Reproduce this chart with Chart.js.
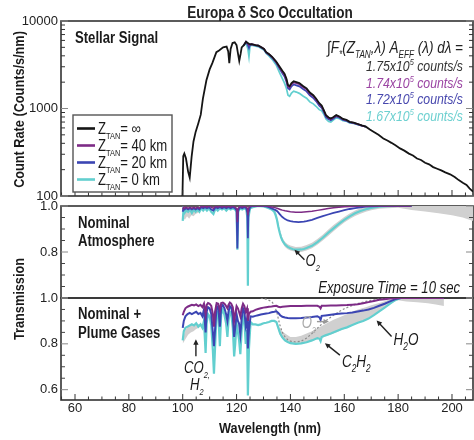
<!DOCTYPE html>
<html><head><meta charset="utf-8">
<script src="https://cdn.jsdelivr.net/npm/chart.js@4.4.1/dist/chart.umd.min.js"></script>
<style>html,body{margin:0;padding:0;background:#fff}#wrap{position:relative;width:474px;height:440px}</style>
</head><body><div id="wrap"><canvas id="c" width="474" height="440"></canvas></div>
<script>
// ---------------- DATA ----------------
const xTicks = [60, 80, 100, 120, 140, 160, 180, 200];
const topTicks = [100, 1000, 10000];
const midTicks = [0.8, 1.0];
const botTicks = [0.6, 0.8, 1.0];
const seriesNames = ['Z_TAN = ∞', 'Z_TAN = 40 km', 'Z_TAN = 20 km', 'Z_TAN = 0 km'];
const countRates = ['1.75', '1.74', '1.72', '1.67'];

// Stellar signal (count rate, counts/s/nm) vs wavelength (nm)
const wlTop = [99.9,100.2,100.6,101.2,102.0,102.6,103.3,104.0,104.8,105.8,106.7,107.5,108.8,110.0,111.0,112.5,113.5,115.0,116.3,116.9,117.3,117.8,118.5,119.3,120.0,120.5,121.0,121.5,121.9,122.7,123.5,124.2,124.6,125.0,125.6,127.0,128.0,129.2,130.2,131.0,132.0,133.2,134.7,136.0,137.0,137.8,138.5,139.1,139.7,140.4,141.2,142.2,143.3,144.8,146.0,147.2,148.5,149.5,150.7,151.6,152.4,153.2,154.2,155.0,156.0,157.0,158.2,159.5,160.8,162.0,163.5,165.0,166.5,168.0,169.5,171.0,172.7,174.5,176.0,177.5,179.0,180.7,182.3,184.0,185.5,187.0,188.5,190.0,191.5,193.0,194.5,196.0,197.5,199.3,201.0,202.5,204.0,205.4,206.5,207.8];
const topInf = [100,285,305,270,190,162,280,420,540,680,850,1300,2100,2800,3300,4400,4600,5000,5100,4500,3300,4800,5600,5700,5300,4300,3500,4200,5000,5300,5800,5600,5500,5400,5450,5300,5250,5000,4800,4400,4200,3900,3450,3000,2700,2500,2200,1850,1800,1950,2050,2000,1950,1800,1700,1520,1420,1300,1150,1080,960,840,790,770,800,840,810,760,740,705,690,665,640,620,575,540,500,455,430,405,380,350,330,305,290,268,258,240,230,214,205,196,186,177,165,152,142,134,122,112];
const wlTopAbs = [122.7,123.5,124.2,124.6,125.0,125.6,127.0,128.0,129.2,130.2,131.0,132.0,133.2,134.7,136.0,137.0,137.8,138.5,139.1,139.7,140.4,141.2,142.2,143.3,144.8,146.0,147.2,148.5,149.5,150.7,151.6,152.4,153.2,154.2,155.0,156.0,157.0,158.2,159.5,160.8,162.0,163.5,165.0,166.5,168.0];
const top40 = [5300,5800,5500,5300,5400,5450,5300,5250,5000,4790,4380,4170,3860,3400,2930,2630,2430,2130,1790,1740,1890,1990,1940,1890,1750,1655,1480,1385,1270,1125,1058,942,825,777,758,789,829,801,752,733,700,686,662,638,619];
const top20 = [5300,5750,5300,4900,5350,5400,5250,5200,4950,4750,4340,4120,3800,3330,2850,2530,2320,2030,1700,1650,1790,1880,1840,1790,1660,1570,1410,1320,1215,1080,1018,908,797,752,735,768,810,785,740,723,692,680,659,636,618];
const top0 = [5200,5600,4800,3900,5200,5300,5150,5100,4850,4650,4250,4000,3650,3150,2550,2200,1950,1700,1420,1380,1500,1580,1540,1490,1380,1310,1190,1130,1060,970,940,860,760,710,700,740,780,765,725,715,685,675,655,635,620];

// Nominal atmosphere transmission
const wlAtm = [100.0,100.3,100.7,101.3,102.0,102.7,103.4,104.1,104.8,105.5,106.2,106.9,107.6,108.3,109.0,109.8,110.6,111.4,112.2,113.0,113.8,114.6,115.4,116.2,117.0,117.8,118.6,119.4,120.0,120.3,120.6,121.3,122.1,122.9,123.6,124.0,124.2,124.4,125.0,126,128,130,131,132,133,134,134.5,135,135.5,136,136.5,137,138,139,140,141,142,143,144,145,146,148,150,152,154,156,158,160,162,164,166,168,170,173,176,180,185];
const atm40 = [.985,.995,.99,.995,.99,.995,.99,.995,.99,.995,.99,1.0,.995,1.0,.995,1.0,.995,.99,1.0,.995,1.0,.995,1.0,.995,1.0,.995,1.0,.995,.99,.93,.99,1.0,.995,1.0,.995,.99,.96,.99,1.0,1.0,1.0,1.0,1.0,.998,.996,.994,.992,.99,.988,.986,.984,.982,.979,.977,.975,.974,.973,.973,.973,.974,.975,.977,.981,.985,.989,.992,.995,.997,.998,.999,1.0,1.0,1.0,1.0,1.0,1.0,1.0];
const atm20 = [.975,.99,.985,.99,.985,.99,.985,.99,.985,.99,.985,.995,.99,.995,.99,.995,.985,.98,.995,.99,.995,.99,.995,.99,.995,.99,.995,.99,.98,.815,.98,.995,.99,.995,.99,.97,.86,.97,.995,1.0,1.0,1.0,.998,.995,.99,.985,.982,.978,.972,.965,.958,.952,.943,.937,.934,.932,.931,.93,.931,.932,.934,.94,.948,.956,.963,.97,.976,.982,.987,.991,.994,.997,.999,1.0,1.0,1.0,1.0];
const atm0 = [.935,.985,.97,.98,.975,.985,.97,.985,.975,.985,.975,.99,.98,.99,.98,.99,.975,.965,.99,.98,.99,.985,.99,.98,.99,.985,.99,.985,.975,.81,.975,.99,.985,.99,.985,.95,.653,.95,.99,.995,1.0,.998,.995,.99,.985,.975,.96,.94,.91,.885,.865,.85,.832,.822,.816,.812,.81,.81,.811,.813,.817,.827,.843,.862,.883,.903,.922,.94,.955,.968,.978,.986,.992,.997,.999,1.0,1.0];
const wlGrayAtm = [100,100.8,101.6,102.4,103.2,104,104.8,105.6,106.4,107.2,108,133,134,135,136,137,138,139,140,142,144,146,148,150,152,154,156,158,160,162,164,166,168,170,173,176,180,185,190,195,200,204,207.8];
const grayAtmLo = [.95,.94,.955,.945,.96,.955,.965,.97,.98,.99,1.0,1.0,.975,.935,.875,.84,.822,.812,.806,.8,.8,.806,.816,.832,.85,.87,.89,.91,.928,.943,.956,.966,.975,.982,.988,.99,.992,.983,.976,.968,.96,.95,.935];
const grayAtmHi = [.99,.985,.99,.985,.99,.99,.995,.995,1.0,1.0,1.0,1.0,.99,.96,.9,.862,.844,.834,.828,.822,.823,.83,.84,.856,.875,.897,.917,.935,.952,.967,.98,.99,.996,1.0,1.0,1.0,1.0,1.0,1.0,1.0,1.0,1.0,1.0];

// Nominal + plume gases transmission
const wlPl = [100.0,100.4,101.0,101.8,102.6,103.4,104.2,105.0,105.8,106.6,107.3,107.9,108.5,108.9,109.4,110.0,110.6,111.2,111.6,112.0,112.6,113.2,113.8,114.3,114.9,115.5,116.1,116.6,117.0,117.5,118.0,118.6,119.1,119.5,120.0,120.5,120.9,121.4,121.9,122.4,122.9,123.4,123.9,124.2,124.6,125.2,126,127,128,129,130,131,132,133,134,134.8,135.5,136.2,137,138,139,140,142,144,146,148,150,150.8,151.2,151.6,153,155,157,159,161,163,165,167,169,171,173,175,177,179,181,183,190,197];
const pl40 = [.925,.94,.955,.962,.966,.97,.968,.972,.965,.97,.96,.975,.93,.97,.978,.975,.965,.93,.875,.94,.978,.975,.945,.978,.98,.975,.965,.955,.97,.98,.975,.96,.9,.93,.965,.955,.94,.92,.955,.975,.965,.94,.955,.9,.93,.94,.942,.948,.952,.955,.958,.96,.962,.963,.965,.966,.962,.96,.962,.963,.964,.965,.965,.965,.966,.966,.966,.962,.955,.966,.966,.967,.967,.968,.969,.971,.973,.977,.982,.987,.992,.995,.998,.999,1.0,1.0,1.0,1.0];
const pl20 = [.87,.9,.92,.93,.935,.93,.935,.94,.93,.935,.92,.95,.85,.94,.96,.955,.93,.85,.79,.86,.965,.96,.875,.96,.97,.955,.93,.9,.94,.965,.96,.92,.83,.87,.93,.9,.89,.84,.91,.955,.94,.88,.91,.78,.86,.92,.918,.922,.925,.928,.93,.932,.934,.938,.94,.942,.935,.925,.918,.915,.913,.912,.912,.913,.915,.917,.92,.915,.905,.922,.924,.927,.93,.932,.934,.937,.941,.945,.95,.957,.966,.975,.985,.995,1.0,1.0,1.0,1.0];
const pl0 = [.815,.855,.87,.875,.88,.885,.88,.89,.875,.885,.87,.9,.76,.89,.93,.92,.88,.77,.67,.78,.94,.935,.79,.93,.95,.925,.89,.83,.9,.94,.935,.87,.745,.8,.89,.85,.82,.755,.86,.92,.9,.8,.86,.575,.78,.895,.885,.885,.882,.885,.89,.892,.895,.9,.9,.895,.87,.845,.828,.815,.808,.803,.8,.802,.807,.815,.825,.822,.812,.83,.837,.845,.855,.865,.872,.882,.892,.9,.91,.925,.942,.958,.975,.992,1.0,1.0,1.0,1.0];
const wlGrayPl = [100,101,102,103,104,105,106,107,107.5,134.5,136,137,138,140,142,144,146,148,150,152,154,156,158,160,162,164,166,168,170,172,174,176,178,180,183,187,191,194,197];
const grayPlLo = [.8,.82,.84,.85,.855,.865,.87,.88,.885,.9,.84,.822,.81,.8,.797,.8,.805,.812,.82,.828,.836,.845,.855,.865,.875,.885,.895,.905,.918,.932,.948,.965,.98,.99,.985,.982,.977,.972,.965];
const grayPlHi = [.82,.86,.875,.885,.885,.89,.885,.885,.885,.9,.87,.855,.845,.83,.83,.835,.845,.855,.868,.88,.893,.905,.915,.925,.935,.945,.953,.96,.968,.975,.982,.99,.996,1.0,1.0,1.0,1.0,1.0,1.0];
const wlO2 = [129,131,133,134,135,136,137,138,139,140,142,144,146,148,150,152,154,156,158,160,162,164,166,168,170,173,176,180];
const o2Only = [1.0,.995,.985,.97,.935,.885,.85,.83,.818,.812,.808,.812,.825,.845,.868,.89,.908,.925,.94,.953,.963,.972,.979,.985,.99,.995,.998,1.0];

// ---------------- FONTS ----------------
function hasFont(name){
  const c = document.createElement('canvas').getContext('2d');
  c.font = '40px monospace'; const a = c.measureText('Exposure Time 10 sec').width;
  c.font = `40px '${name}', monospace`; const b = c.measureText('Exposure Time 10 sec').width;
  return Math.abs(a - b) > 1;
}
const NARROW = hasFont('Liberation Sans Narrow');
const FN = NARROW ? "'Liberation Sans Narrow', sans-serif" : "'Liberation Sans', Arial, sans-serif";
const SX = NARROW ? 1 : 0.82;
Chart.defaults.font.family = FN;
Chart.defaults.font.size = NARROW ? 15.5 : 13;
Chart.defaults.color = '#222';

const C = {inf:'#151515', k40:'#7d2b86', k20:'#3b45b3', k0:'#62cfcf', gray:'#d0d0d0', dot:'#8c8c8c'};

function pts(xs, ys){ return xs.map((x, i) => ({x, y: ys[i]})); }
function ln(label, xs, ys, axis, color, width, order, extra){
  return Object.assign({label, data: pts(xs, ys), xAxisID: 'x', yAxisID: axis, borderColor: color,
    backgroundColor: color, borderWidth: width, pointRadius: 0, tension: 0, fill: false, order}, extra || {});
}

const datasets = [
  ln('inf', wlTop, topInf, 'yTop', C.inf, 1.8, 0),
  ln('40', wlTopAbs, top40, 'yTop', C.k40, 1.7, 1),
  ln('20', wlTopAbs, top20, 'yTop', C.k20, 1.7, 2),
  ln('0', wlTopAbs, top0, 'yTop', C.k0, 1.7, 3),
  ln('atm40', wlAtm, atm40, 'yMid', C.k40, 1.5, 1),
  ln('atm20', wlAtm, atm20, 'yMid', C.k20, 1.8, 2),
  ln('atm0', wlAtm, atm0, 'yMid', C.k0, 2.2, 3),
  ln('grayAtmLo', wlGrayAtm, grayAtmLo, 'yMid', 'rgba(0,0,0,0)', 0, 9),
  ln('grayAtmHi', wlGrayAtm, grayAtmHi, 'yMid', 'rgba(0,0,0,0)', 0, 9, {fill: '-1', backgroundColor: C.gray}),
  ln('pl40', wlPl, pl40, 'yBot', C.k40, 2, 1),
  ln('pl20', wlPl, pl20, 'yBot', C.k20, 2, 2),
  ln('pl0', wlPl, pl0, 'yBot', C.k0, 2.2, 3),
  ln('o2', wlO2, o2Only, 'yBot', C.dot, 1.2, 4, {borderDash: [2, 2]}),
  ln('grayPlLo', wlGrayPl, grayPlLo, 'yBot', 'rgba(0,0,0,0)', 0, 9),
  ln('grayPlHi', wlGrayPl, grayPlHi, 'yBot', 'rgba(0,0,0,0)', 0, 9, {fill: '-1', backgroundColor: C.gray}),
];

// ---------------- TEXT HELPERS ----------------
function txt(ctx, parts, x, y, o){
  const size = o.size || 16;
  const sub = Math.round(size * 0.58);
  const font = sz => `${o.style || 'normal'} ${o.weight || 'normal'} ${sz}px ${FN}`;
  const ws = []; let tot = 0;
  for (const p of parts){ ctx.font = font(p[1] ? sub : size); const w = ctx.measureText(p[0]).width; ws.push(w); tot += w; }
  let cur = o.align === 'right' ? -tot : o.align === 'center' ? -tot / 2 : 0;
  ctx.save();
  ctx.translate(x, y);
  if (o.rot) ctx.rotate(o.rot);
  ctx.scale(SX, 1);
  ctx.textAlign = 'left'; ctx.textBaseline = 'alphabetic';
  const base = size * 0.36;
  parts.forEach((p, i) => {
    ctx.font = font(p[1] ? sub : size);
    ctx.fillStyle = p[2] || o.color || '#1a1a1a';
    const dy = p[1] === 'sub' ? size * 0.3 : p[1] === 'sup' ? -size * 0.42 : 0;
    ctx.fillText(p[0], cur, base + dy);
    cur += ws[i];
  });
  ctx.restore();
}
function arrow(ctx, x1, y1, x2, y2, color){
  const a = Math.atan2(y2 - y1, x2 - x1), h = 6;
  ctx.save(); ctx.strokeStyle = color; ctx.fillStyle = color; ctx.lineWidth = 1.4;
  ctx.beginPath(); ctx.moveTo(x1, y1); ctx.lineTo(x2 - Math.cos(a) * h * 0.8, y2 - Math.sin(a) * h * 0.8); ctx.stroke();
  ctx.beginPath(); ctx.moveTo(x2, y2);
  ctx.lineTo(x2 - h * Math.cos(a - 0.45), y2 - h * Math.sin(a - 0.45));
  ctx.lineTo(x2 - h * Math.cos(a + 0.45), y2 - h * Math.sin(a + 0.45));
  ctx.closePath(); ctx.fill(); ctx.restore();
}

const deco = {
  id: 'deco',
  beforeDatasetsDraw(chart){
    const ctx = chart.ctx, ca = chart.chartArea, s = chart.scales;
    ctx.save(); ctx.strokeStyle = '#333'; ctx.lineWidth = 1.6;
    for (const a of [s.yTop, s.yMid, s.yBot]) ctx.strokeRect(ca.left, a.top, ca.right - ca.left, a.bottom - a.top);
    ctx.restore();
  },
  afterDatasetsDraw(chart){
    const ctx = chart.ctx, ca = chart.chartArea, s = chart.scales;
    const X = s.x, yT = s.yTop, yM = s.yMid, yB = s.yBot, L = ca.left, R = ca.right;
    ctx.save();
    ctx.lineWidth = 1;
    const seg = (x1, y1, x2, y2, c) => { ctx.strokeStyle = c; ctx.beginPath(); ctx.moveTo(x1, y1); ctx.lineTo(x2, y2); ctx.stroke(); };
    for (let v = 55; v <= 205; v += 5){
      const px = X.getPixelForValue(v), major = v % 20 === 0, len = major ? 6 : 3.5;
      for (const a of [yT, yB]) seg(px, a.bottom, px, a.bottom - len, '#333');
    }
    for (const d of [100, 1000]) for (let m = 1; m <= 10; m++){
      const v = d * m, py = yT.getPixelForValue(v), major = (m === 1 || m === 10), len = major ? 7 : 4;
      seg(L, py, L + len, py, major ? '#888' : '#333'); seg(R, py, R - len, py, major ? '#888' : '#333');
    }
    for (const a of [yM, yB]){
      for (let k = 12; k <= 20; k++){
        const v = k * 0.05; if (v < a.min - 1e-6) continue;
        const py = a.getPixelForValue(v), major = k % 4 === 0, len = major ? 7 : 4;
        seg(L, py, L + len, py, major ? '#888' : '#444'); seg(R, py, R - len, py, major ? '#888' : '#444');
      }
    }
    ctx.restore();

    const midX = (L + R) / 2;
    txt(ctx, [['Europa δ Sco Occultation']], midX + 3, 12, {size: 16.5, weight: 'bold', align: 'center', color: '#222'});
    txt(ctx, [['Count Rate (Counts/s/nm)']], 18.5, (yT.top + yT.bottom) / 2 + 1, {size: 15.5, weight: 'bold', align: 'center', rot: -Math.PI / 2});
    txt(ctx, [['Transmission']], 18.5, 299, {size: 15.5, weight: 'bold', align: 'center', rot: -Math.PI / 2});
    txt(ctx, [['Wavelength (nm)']], midX + 3, 427, {size: 15.5, weight: 'bold', align: 'center'});

    txt(ctx, [['Stellar Signal']], L + 14, 37, {size: 16, weight: 'bold'});
    txt(ctx, [['Nominal']], L + 17, 222, {size: 16, weight: 'bold'});
    txt(ctx, [['Atmosphere']], L + 17, 240, {size: 16, weight: 'bold'});
    txt(ctx, [['Nominal +']], L + 17, 313, {size: 16, weight: 'bold'});
    txt(ctx, [['Plume Gases']], L + 17, 332, {size: 16, weight: 'bold'});

    txt(ctx, [['∫F'], ['*', 'sub'], ['(Z'], ['TAN', 'sub'], [',λ) A'], ['EFF', 'sub'], [' (λ) dλ =']], R - 10, 47, {size: 16.5, style: 'italic', align: 'right', color: '#222'});
    const rc = ['#333', '#9b45a3', '#4848ae', '#6dd0d0'];
    countRates.forEach((r, i) => {
      txt(ctx, [[r + 'x10'], ['5', 'sup'], [' counts/s']], R - 10, 66 + i * 16.5, {size: 15, style: 'italic', align: 'right', color: rc[i]});
    });

    ctx.save();
    ctx.fillStyle = '#fff'; ctx.strokeStyle = '#555'; ctx.lineWidth = 1.4;
    ctx.fillRect(L + 12, 115, 99, 77); ctx.strokeRect(L + 12, 115, 99, 77);
    const lc = [C.inf, C.k40, C.k20, C.k0];
    seriesNames.forEach((n, i) => {
      const y = 128.5 + i * 17;
      ctx.strokeStyle = lc[i]; ctx.lineWidth = 2.6;
      ctx.beginPath(); ctx.moveTo(L + 16, y); ctx.lineTo(L + 34, y); ctx.stroke();
      const rest = n.split('=')[1];
      txt(ctx, [['Z'], ['TAN', 'sub'], ['=' + rest]], L + 37, y, {size: 16});
    });
    ctx.restore();

    let hx = X.getPixelForValue(141.5), hy = yM.getPixelForValue(0.81);
    arrow(ctx, hx + 10, hy + 10, hx, hy, '#222');
    txt(ctx, [['O'], ['2', 'sub']], hx + 11, hy + 11, {size: 16, style: 'italic'});
    txt(ctx, [['Exposure Time = 10 sec']], R - 13, 287, {size: 16, style: 'italic', align: 'right'});

    hx = X.getPixelForValue(104.9); hy = yB.getPixelForValue(0.82);
    arrow(ctx, hx, hy + 17, hx, hy, '#222');
    txt(ctx, [['CO'], ['2', 'sub'], [',', 'sub']], hx + 1, hy + 28, {size: 16, style: 'italic', align: 'center'});
    txt(ctx, [['H'], ['2', 'sub']], hx + 1, hy + 45, {size: 16, style: 'italic', align: 'center'});

    hx = X.getPixelForValue(154.3); hy = yB.getPixelForValue(0.897);
    arrow(ctx, hx - 12, hy, hx, hy, '#999');
    txt(ctx, [['O'], ['2', 'sub']], hx - 13, hy + 1, {size: 16, style: 'italic', align: 'right', color: '#aaa'});

    hx = X.getPixelForValue(172); hy = yB.getPixelForValue(0.902);
    arrow(ctx, hx + 15, hy + 16, hx, hy, '#222');
    txt(ctx, [['H'], ['2', 'sub'], ['O']], hx + 17, hy + 19, {size: 16.5, style: 'italic'});

    hx = X.getPixelForValue(152.8); hy = yB.getPixelForValue(0.803);
    arrow(ctx, hx + 15, hy + 12, hx, hy, '#222');
    txt(ctx, [['C'], ['2', 'sub'], ['H'], ['2', 'sub']], hx + 17, hy + 18, {size: 16.5, style: 'italic'});
  }
};

const fixW = s => { s.width = 61; };
const setTicks = arr => s => { s.ticks = arr.map(v => ({value: v})); };
const noGrid = {display: false, drawTicks: false};
const yCommon = {position: 'left', stack: 'panels', grid: noGrid, border: {display: false}, afterFit: fixW};

new Chart(document.getElementById('c'), {
  type: 'line',
  data: {datasets},
  options: {
    responsive: false, animation: false, events: [],
    layout: {padding: {top: 21, left: 0, right: 1, bottom: 0}},
    plugins: {legend: {display: false}, tooltip: {enabled: false}, title: {display: false}},
    scales: {
      x: {type: 'linear', position: 'bottom', min: 54.8, max: 207.8, grid: noGrid, border: {display: false},
          ticks: {padding: 1, maxRotation: 0}, afterBuildTicks: setTicks(xTicks), afterFit: s => { s.height = 40; }},
      yBot: Object.assign({}, yCommon, {type: 'linear', stackWeight: 102, weight: 1, min: 0.555, max: 1.0,
          ticks: {padding: 3, callback: v => Number(v).toFixed(1)}, afterBuildTicks: setTicks(botTicks)}),
      yMid: Object.assign({}, yCommon, {type: 'linear', stackWeight: 92, weight: 2, min: 0.6, max: 1.0,
          ticks: {padding: 3, callback: v => Number(v).toFixed(1)}, afterBuildTicks: setTicks(midTicks)}),
      yGap: Object.assign({}, yCommon, {type: 'linear', stackWeight: 10, weight: 3, ticks: {display: false}}),
      yTop: Object.assign({}, yCommon, {type: 'logarithmic', stackWeight: 175, weight: 4, min: 100, max: 10000,
          ticks: {padding: 3, callback: v => String(v)}, afterBuildTicks: setTicks(topTicks)})
    }
  },
  plugins: [deco]
});
</script></body></html>
